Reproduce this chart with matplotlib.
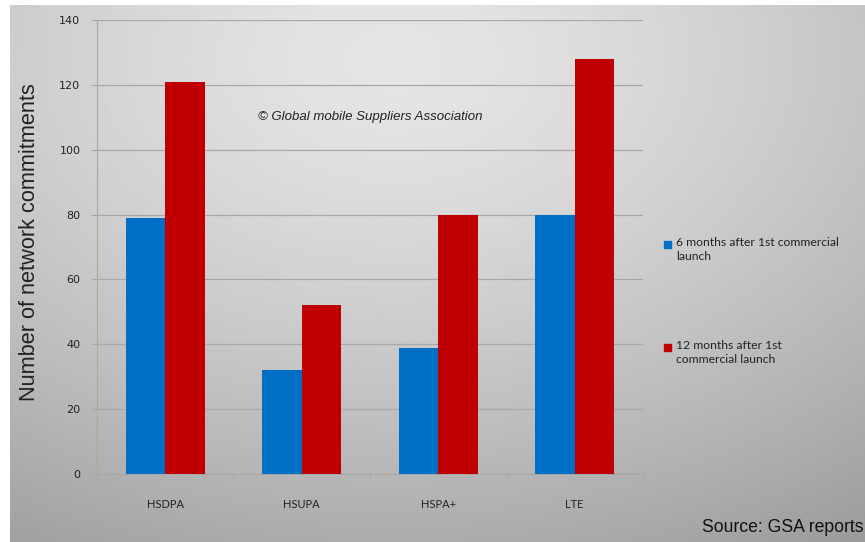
import matplotlib
matplotlib.use('Agg')
import matplotlib.pyplot as plt
import numpy as np

categorias = ['HSDPA', 'HSUPA', 'HSPA+', 'LTE']
seis_meses = [79, 32, 39, 80]
doce_meses = [121, 52, 80, 128]
etiquetas = ['6 months after 1st commercial\nlaunch', '12 months after 1st\ncommercial launch']
yticks = [0, 20, 40, 60, 80, 100, 120, 140]

AZUL = '#0070C6'
ROJO = '#C00000'

fig = plt.figure(figsize=(8.65, 5.42), dpi=100)
fig.patch.set_facecolor('white')

# fondo con degradado gris
fondo = fig.add_axes([10 / 865, 0, 1 - 10 / 865, 1 - 5 / 542])
fondo.set_axis_off()
yy, xx = np.mgrid[0:1:300j, 0:1:500j]
r = np.sqrt(((xx - 0.45) / 1.0) ** 2 + ((yy - 0.1) / 1.1) ** 2)
grad = 0.90 - 0.30 * np.clip(r, 0, 1) ** 1.4
fondo.imshow(grad, cmap='gray', vmin=0, vmax=1, aspect='auto', extent=[0, 1, 1, 0])
fondo.set_xlim(0, 1)
fondo.set_ylim(1, 0)

ax = fig.add_axes([97 / 865, 1 - 474 / 542, 546 / 865, 454 / 542])
ax.patch.set_alpha(0)
x = np.arange(len(categorias))
ancho = 0.29
ax.bar(x - ancho / 2, seis_meses, ancho, color=AZUL, zorder=3)
ax.bar(x + ancho / 2, doce_meses, ancho, color=ROJO, zorder=3)

ax.set_xlim(-0.5, len(categorias) - 0.5)
ax.set_ylim(0, 140)
ax.set_yticks(yticks)
ax.yaxis.grid(True, color='#a8a8a8', linewidth=0.9, zorder=0)
ax.set_xticks(x)
ax.set_xticklabels(categorias, fontsize=8, family='Lato', color='#222222')
ax.set_xticks(np.arange(-0.5, len(categorias)), minor=True)
ax.tick_params(axis='x', which='major', length=0, pad=18)
ax.tick_params(axis='x', which='minor', length=4, color='#a8a8a8')
ax.tick_params(axis='y', length=4, color='#a8a8a8', labelsize=8, labelcolor='#222222', pad=8)
for s in ['top', 'right']:
    ax.spines[s].set_visible(False)
for s in ['left', 'bottom']:
    ax.spines[s].set_color('#a8a8a8')

ax.set_ylabel('Number of network commitments', fontsize=15.7, family='Liberation Sans',
              color='#222222')
ax.yaxis.set_label_coords(-0.104, 0.51)

ax.text(0.5, 0.786, '\u00a9 Global mobile Suppliers Association', transform=ax.transAxes,
        ha='center', va='center', fontsize=9.5, style='italic', family='Liberation Sans',
        color='#222222')

# leyenda
for etiqueta, color, ypos in [(etiquetas[0], AZUL, 244), (etiquetas[1], ROJO, 347)]:
    fig.patches.append(plt.Rectangle((664 / 865, 1 - (ypos + 4) / 542), 7 / 865, 7 / 542,
                                     transform=fig.transFigure, color=color, figure=fig))
    fig.text(676 / 865, 1 - (ypos - 7) / 542, etiqueta, fontsize=8.7, family='Lato',
             color='#222222', va='top', ha='left', linespacing=1.3)

fig.text(863 / 865, 1 - 527 / 542, 'Source: GSA reports', fontsize=12.7,
         family='Liberation Sans', ha='right', va='center', color='#111111')

plt.savefig('out.png', dpi=100)
